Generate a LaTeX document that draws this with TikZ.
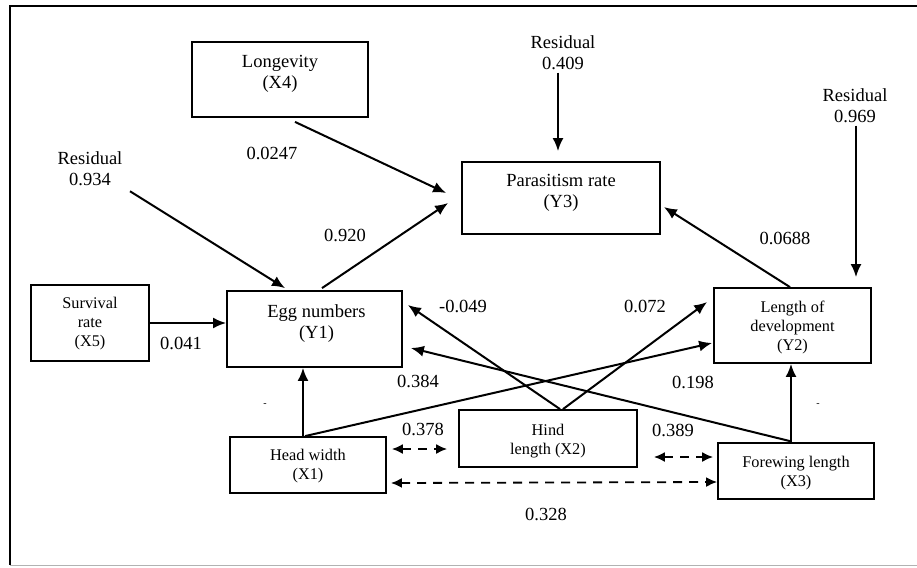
\documentclass[tikz,border=0pt]{standalone}
\usepackage{fontspec}
\setmainfont{Liberation Serif}
\usetikzlibrary{arrows.meta,calc}
\begin{document}
\begin{tikzpicture}[x=1pt,y=-1pt,
  box/.style={draw,line width=1.8pt,inner sep=0pt,anchor=center},
  bigtxt/.style={font=\fontsize{18.5}{21}\selectfont,align=center,inner sep=0pt},
  smalltxt/.style={font=\fontsize{16.3}{19}\selectfont,align=center,inner sep=0pt},
  arr/.style={line width=2pt,-{Latex[length=13pt,width=11pt]}},
  darr/.style={line width=1.8pt,dash pattern=on 9pt off 7pt,{Latex[length=11pt,width=10pt]}-{Latex[length=11pt,width=10pt]}}
]
\useasboundingbox (0,0) rectangle (917,567);
% frame
\draw[line width=1.8pt] (917,6) -- (10,6) -- (10,565);
\draw[line width=1pt,gray!60] (10,565) -- (917,565);

% boxes
\node[box,minimum width=176pt,minimum height=75pt] (X4) at (280,79.5) {};
\node[box,minimum width=198pt,minimum height=72pt] (Y3) at (561,198) {};
\node[box,minimum width=118pt,minimum height=76pt] (X5) at (90,323) {};
\node[box,minimum width=175pt,minimum height=76pt] (Y1) at (314.5,329) {};
\node[box,minimum width=156pt,minimum height=56pt] (X1) at (308,465) {};
\node[box,minimum width=178pt,minimum height=57pt] (X2) at (548,438.5) {};
\node[box,minimum width=157pt,minimum height=75pt] (Y2) at (792.5,325.5) {};
\node[box,minimum width=156pt,minimum height=56pt] (X3) at (796,471) {};

% box texts
\node[bigtxt] (X4t) at ($(X4)+(0,-6)$) {Longevity\\(X4)};
\node[bigtxt] (Y3t) at ($(Y3)+(0,-5)$) {Parasitism rate\\(Y3)};
\node[smalltxt] (X5t) at ($(X5)+(0,1)$) {Survival\\rate\\(X5)};
\node[bigtxt] (Y1t) at ($(Y1)+(2,-5)$) {Egg numbers\\(Y1)};
\node[smalltxt] (X1t) at ($(X1)+(0,1.5)$) {Head width\\(X1)};
\node[smalltxt] (X2t) at ($(X2)+(0,2.5)$) {Hind\\length (X2)};
\node[smalltxt] (Y2t) at ($(Y2)+(0,1.5)$) {Length of\\development\\(Y2)};
\node[smalltxt] (X3t) at ($(X3)+(0,2)$) {Forewing length\\(X3)};

% residuals
\node[bigtxt] (R1) at (563,52.5) {Residual\\0.409};
\node[bigtxt] (R2) at (855,105.5) {Residual\\0.969};
\node[bigtxt] (R3) at (90,169) {Residual\\0.934};

\draw[arr] ($(R1.south)+(-5,3)$) -- ($(Y3.north)+(-3,-10)$);
\draw[arr] ($(R2.south)+(1,3)$) -- ($(Y2.north)+(63.5,-10)$);
\draw[arr] ($(R3.south)+(40,5)$) -- ($(Y1.north)+(-29.5,-2)$);

% paths
\draw[arr] ($(X4.south)+(15,4)$) -- ($(Y3.west)+(-15,-5)$);
\draw[arr] ($(Y1.north)+(7.5,-2)$) -- ($(Y3.west)+(-13,5)$);
\draw[arr] (X5.east) -- (X5.east -| Y1.west);
\draw[arr] ($(X1.north)+(-5,0)$) -- ($(Y1.south)+(-11.5,0)$);
\draw[arr] ($(X1.north)+(-3,0)$) -- ($(Y2.west)+(-1,17.5)$);
\draw[arr] ($(X2.north)+(12,0)$) -- ($(Y1.east)+(5,-24)$);
\draw[arr] ($(X2.north)+(15,0)$) -- ($(Y2.west)+(-6,-23.5)$);
\draw[arr] ($(X3.north)+(-6,-1)$) -- ($(Y1.east)+(8,19)$);
\draw[arr] ($(X3.north)+(-5,0)$) -- ($(Y2.south)+(-1.5,0)$);
\draw[arr] ($(Y2.north)+(-2.5,0)$) -- ($(Y3.east)+(3,9)$);

% correlations
\draw[darr] ($(X1.east)+(5,-16)$) -- ($(X2.west)+(-11,10.5)$);
\draw[darr] ($(X2.east)+(16,18.5)$) -- ($(X3.west)+(-4,-14)$);
\draw[darr] ($(X1.east)+(4,18)$) -- ($(X3.west)+(0,11)$);

% coefficients
\node[bigtxt] (c1) at (272,153) {0.0247};
\node[bigtxt] (c2) at (345,235) {0.920};
\node[bigtxt] (c3) at (181,343) {0.041};
\node[bigtxt] (c4) at (418,381) {0.384};
\node[bigtxt] (c5) at (463,306) {-0.049};
\node[bigtxt] (c6) at (645,306) {0.072};
\node[bigtxt] (c7) at (693,382) {0.198};
\node[bigtxt] (c8) at (785,238) {0.0688};
\node[bigtxt] (c9) at (423,429) {0.378};
\node[bigtxt] (c10) at (673,430) {0.389};
\node[bigtxt] (c11) at (546,514) {0.328};
\node[font=\fontsize{10}{12}\selectfont,inner sep=0pt] (m1) at (265,405) {-};
\node[font=\fontsize{10}{12}\selectfont,inner sep=0pt] (m2) at (818,405) {-};
\end{tikzpicture}
\end{document}
